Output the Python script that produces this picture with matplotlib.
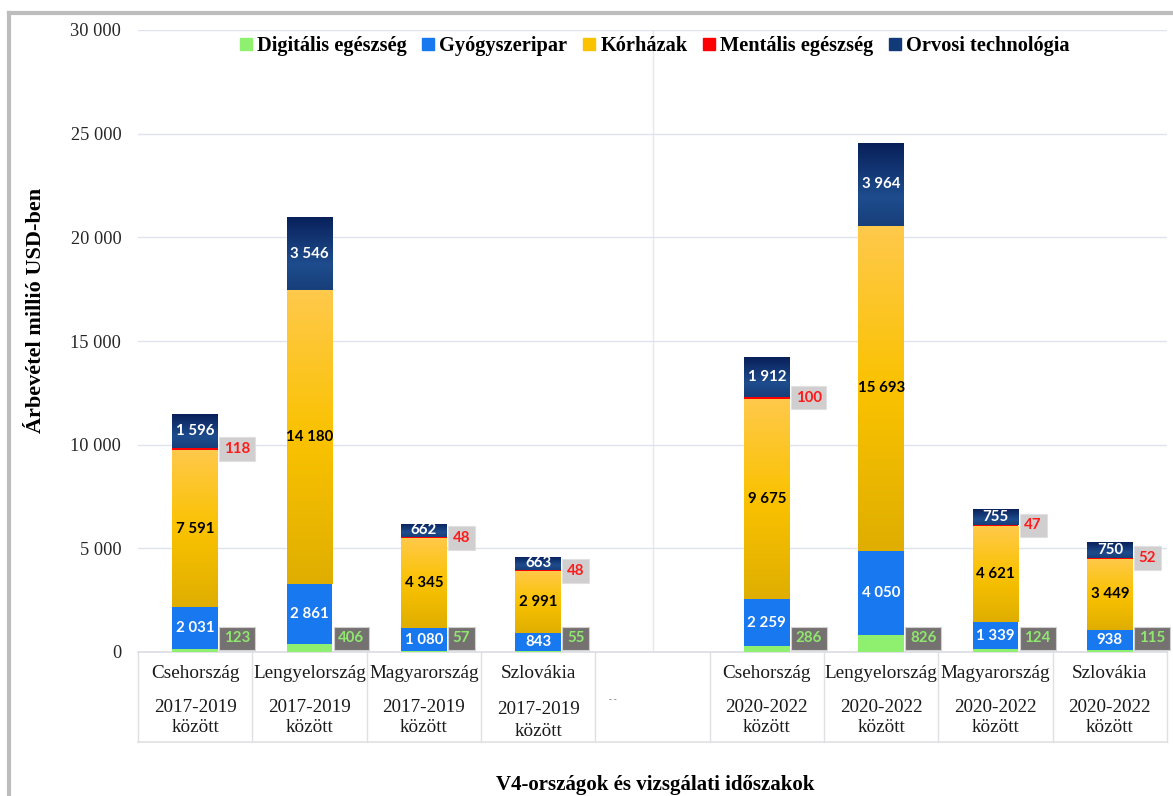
import numpy as np
import matplotlib
matplotlib.use("Agg")
import matplotlib.pyplot as plt
from matplotlib.lines import Line2D
from matplotlib.colors import LinearSegmentedColormap
import matplotlib.transforms as mtransforms

# ---------------- data ----------------
countries = ["Csehország", "Lengyelország", "Magyarország", "Szlovákia",
             "Csehország", "Lengyelország", "Magyarország", "Szlovákia"]
periods = ["2017-2019", "2017-2019", "2017-2019", "2017-2019",
           "2020-2022", "2020-2022", "2020-2022", "2020-2022"]
series_names = ["Digitális egészség", "Gyógyszeripar", "Kórházak",
                "Mentális egészség", "Orvosi technológia"]
digitalis = [123, 406, 57, 55, 286, 826, 124, 115]
gyogyszer = [2031, 2861, 1080, 843, 2259, 4050, 1339, 938]
korhazak = [7591, 14180, 4345, 2991, 9675, 15693, 4621, 3449]
mentalis = [118, 0, 48, 48, 100, 0, 47, 52]
orvosi = [1596, 3546, 662, 663, 1912, 3964, 755, 750]
y_ticks = [0, 5000, 10000, 15000, 20000, 25000, 30000]

slots = [0, 1, 2, 3, 5, 6, 7, 8]   # slot 4 is the empty separator

# ---------------- style ----------------
SERIF = ["Liberation Serif", "DejaVu Serif"]
LAB = ["Lato", "DejaVu Sans"]
c_green = "#8EF06E"
c_blue = "#1878F0"
c_orange = "#FBC200"
c_red = "#FF0000"
c_navy = "#123A78"

W, H = 1173, 796
fig = plt.figure(figsize=(W / 100, H / 100), dpi=100)
ax_l, ax_r, ax_t, ax_b = 138, 1167, 30, 652
ax = fig.add_axes([ax_l / W, 1 - ax_b / H, (ax_r - ax_l) / W, (ax_b - ax_t) / H])

bw = 0.40
x = np.array(slots, dtype=float)
d = np.array(digitalis, float)
g = np.array(gyogyszer, float)
k = np.array(korhazak, float)
m = np.array(mentalis, float)
o = np.array(orvosi, float)

b1 = ax.bar(x, d, bw, color=c_green, zorder=3)
b2 = ax.bar(x, g, bw, bottom=d, color=c_blue, zorder=3)
b3 = ax.bar(x, k, bw, bottom=d + g, color=c_orange, zorder=3)
b4 = ax.bar(x, m, bw, bottom=d + g + k, color=c_red, zorder=3)
b5 = ax.bar(x, o, bw, bottom=d + g + k + m, color=c_navy, zorder=3)

# gradients
cm_orange = LinearSegmentedColormap.from_list(
    "or", [(0, "#DFAE00"), (0.5, "#FAC200"), (1, "#FFC94C")])
cm_navy = LinearSegmentedColormap.from_list(
    "nv", [(0, "#173F7A"), (0.35, "#1E4C8D"), (1, "#08205A")])
grad = np.linspace(0, 1, 256).reshape(-1, 1)
for cont, cmap in ((b3, cm_orange), (b5, cm_navy)):
    for p in cont.patches:
        x0, y0 = p.get_x(), p.get_y()
        w, h = p.get_width(), p.get_height()
        if h <= 0:
            continue
        im = ax.imshow(grad, cmap=cmap, aspect="auto", origin="lower",
                       extent=[x0, x0 + w, y0, y0 + h], zorder=3.5,
                       interpolation="bilinear")
        im.set_clip_path(p)

ax.set_xlim(-0.5, 8.5)
ax.set_ylim(0, 30000)
ax.set_yticks(y_ticks)
ax.set_yticklabels([f"{v:,}".replace(",", " ") for v in y_ticks],
                   fontfamily=SERIF, fontsize=13.2, color="#262626")
ax.tick_params(axis="y", length=0, pad=12)
ax.set_xticks([])
for s in ax.spines.values():
    s.set_visible(False)
ax.grid(axis="y", color="#DEE3EC", lw=1, zorder=0)
ax.axvline(4, color="#E6E6EC", lw=1, zorder=0.5)


def fmt(v):
    return f"{int(v):,}".replace(",", " ")


LFS = 10.8
# labels in the bars
for i in range(len(slots)):
    xi = x[i]
    ax.text(xi, d[i] + g[i] / 2, fmt(g[i]), ha="center", va="center",
            color="white", fontfamily=LAB, fontweight="bold", fontsize=LFS, zorder=5)
    ax.text(xi, d[i] + g[i] + k[i] / 2, fmt(k[i]), ha="center", va="center",
            color="black", fontfamily=LAB, fontweight="bold", fontsize=LFS, zorder=5)
    ax.text(xi, d[i] + g[i] + k[i] + m[i] + o[i] / 2, fmt(o[i]), ha="center",
            va="center", color="white", fontfamily=LAB, fontweight="bold",
            fontsize=LFS, zorder=5)
    ax.annotate(fmt(d[i]), xy=(xi + bw / 2, 0), xytext=(6, 6.5),
                textcoords="offset pixels", ha="left", va="bottom",
                color="#8EE86E", fontfamily=LAB, fontweight="bold", fontsize=LFS,
                bbox=dict(boxstyle="square,pad=0.32", fc="#767171", ec="#D0D0D0",
                          lw=0.8), zorder=6, annotation_clip=False)
    if m[i] > 0:
        ax.annotate(fmt(m[i]), xy=(xi + bw / 2, d[i] + g[i] + k[i] + m[i] / 2),
                    xytext=(6, 0), textcoords="offset pixels", ha="left",
                    va="center", color="#FF1A1A", fontfamily=LAB,
                    fontweight="bold", fontsize=LFS,
                    bbox=dict(boxstyle="square,pad=0.32", fc="#D0CECE",
                              ec="#E0E0E0", lw=0.8), zorder=6)

# category table
trans = mtransforms.blended_transform_factory(ax.transData, ax.transAxes)
tb = (ax_b - 742) / (ax_b - ax_t)
for i in range(10):
    ax.plot([i - 0.5, i - 0.5], [0, tb], transform=trans, color="#E0E0E4",
            lw=1, clip_on=False, zorder=1)
ax.plot([-0.5, 8.5], [tb, tb], transform=trans, color="#E0E0E4", lw=1.2,
        clip_on=False)
ax.plot([-0.5, 8.5], [0, 0], transform=trans, color="#DADDE3", lw=1.2,
        clip_on=False, zorder=2)


def yfrac(py):
    return (ax_b - py) / (ax_b - ax_t)


CFS = 13.8
for i, s in enumerate(slots):
    dy = 3 if (i == 3) else 0
    ax.text(s, yfrac(674), countries[i], transform=trans, ha="center",
            va="center", fontfamily=SERIF, fontsize=CFS, color="#1a1a1a")
    ax.text(s, yfrac(707 + dy), periods[i], transform=trans, ha="center",
            va="center", fontfamily=SERIF, fontsize=CFS, color="#1a1a1a")
    ax.text(s, yfrac(728 + dy), "között", transform=trans, ha="center",
            va="center", fontfamily=SERIF, fontsize=CFS, color="#1a1a1a")
ax.text(3.65, yfrac(700), "- -", transform=trans, ha="center", va="center",
        fontfamily=SERIF, fontsize=6, color="#555555")

# legend
handles = [Line2D([], [], marker="s", ls="", markersize=9, color=c)
           for c in (c_green, c_blue, c_orange, c_red, c_navy)]
leg = ax.legend(handles, series_names, loc="center", ncol=5,
                bbox_to_anchor=(0.502, yfrac(46)), frameon=False,
                prop=dict(family=SERIF, weight="bold", size=14.7),
                handlelength=0.6, handletextpad=0.25, columnspacing=0.75,
                borderaxespad=0)

# axis titles
fig.text(36 / W, 1 - 310 / H, "Árbevétel millió USD-ben", rotation=90,
         ha="center", va="center", fontfamily=SERIF, fontweight="bold",
         fontsize=16)
fig.text(655 / W, 1 - 785 / H, "V4-országok és vizsgálati időszakok",
         ha="center", va="center", fontfamily=SERIF, fontweight="bold",
         fontsize=15)

# outer frame (gray)
fig.add_artist(Line2D([9 / W, 9 / W], [0, 1 - 13 / H], color="#BDBDBD", lw=3,
                      transform=fig.transFigure))
fig.add_artist(Line2D([9 / W, 1], [1 - 13 / H, 1 - 13 / H], color="#BDBDBD",
                      lw=3, transform=fig.transFigure))

fig.savefig("out.png", dpi=100)
